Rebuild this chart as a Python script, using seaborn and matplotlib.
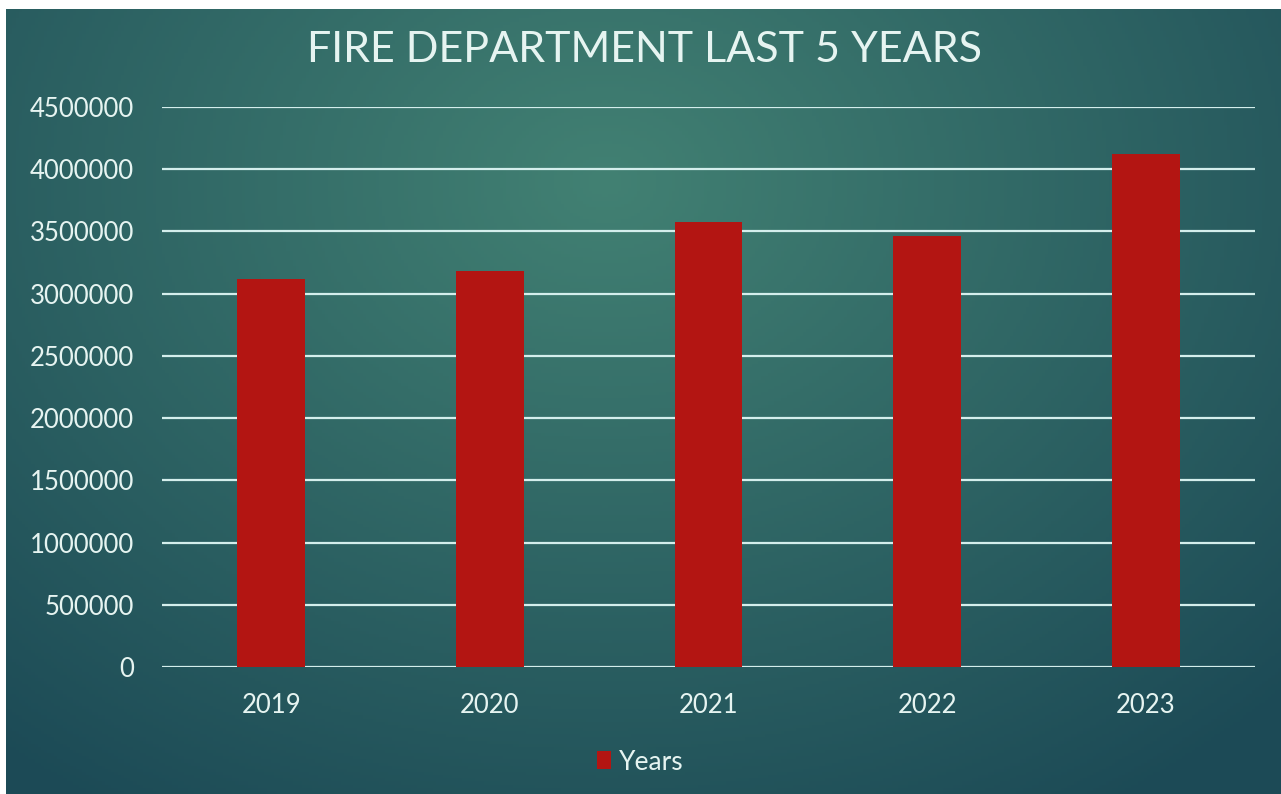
import numpy as np
import pandas as pd
import matplotlib
matplotlib.use("Agg")
import matplotlib.pyplot as plt
import seaborn as sns

# chart values
years = ["2019", "2020", "2021", "2022", "2023"]
values = [3115000, 3185000, 3578000, 3464000, 4120000]
yticks = [0, 500000, 1000000, 1500000, 2000000, 2500000, 3000000, 3500000, 4000000, 4500000]

data = pd.DataFrame({"Year": years, "Value": values})

sns.set_theme(style="white")
plt.rcParams["font.family"] = ["Lato", "DejaVu Sans"]

text_col = "#e6f4f1"
grid_col = "#d4eeec"
bar_col = "#b31512"

fig = plt.figure(figsize=(12.81, 7.94), dpi=100)
fig.patch.set_facecolor("white")

# radial teal background (slide style), leaving thin white strip top/left
bg = fig.add_axes([6 / 1281, 0, 1 - 6 / 1281, 1 - 9 / 794])
gx, gy = np.meshgrid(np.linspace(0, 1, 400), np.linspace(0, 1, 250))
d = np.sqrt(((gx - 0.47) / 0.75) ** 2 + ((gy - 0.22) / 0.95) ** 2)
d = np.clip(d, 0, 1)
inner = np.array([66, 129, 115]) / 255
outer = np.array([28, 74, 86]) / 255
img = inner[None, None, :] * (1 - d[..., None]) + outer[None, None, :] * d[..., None]
bg.imshow(img, aspect="auto", extent=[0, 1, 0, 1], origin="upper")
bg.set_axis_off()

ax = fig.add_axes([162 / 1281, 127 / 794, (1255 - 162) / 1281, 560 / 794])
ax.set_facecolor("none")
sns.barplot(data=data, x="Year", y="Value", color=bar_col, width=0.31,
            saturation=1, label="Years", ax=ax, zorder=3,
            edgecolor="none", linewidth=0)

ax.set_ylim(0, 4500000)
ax.set_yticks(yticks)
ax.set_yticklabels([str(t) for t in yticks])
for t in yticks:
    ax.axhline(t, color=grid_col, lw=1.6, zorder=1)
for s in ax.spines.values():
    s.set_visible(False)
ax.set_xlabel("")
ax.set_ylabel("")
ax.tick_params(axis="y", length=0, pad=20, labelsize=18.5, labelcolor=text_col)
ax.tick_params(axis="x", length=0, pad=19, labelsize=18.5, labelcolor=text_col)

fig.text(0.503, 0.937, "FIRE DEPARTMENT LAST 5 YEARS", ha="center", va="center",
         fontsize=31, color=text_col, fontweight="normal")

leg = ax.legend(loc="center", bbox_to_anchor=(0.5, 32 / 794), bbox_transform=fig.transFigure,
                frameon=False, fontsize=19, handlelength=0.55, handleheight=0.65,
                handletextpad=0.3, labelcolor=text_col)

fig.savefig("out.png", dpi=100)
